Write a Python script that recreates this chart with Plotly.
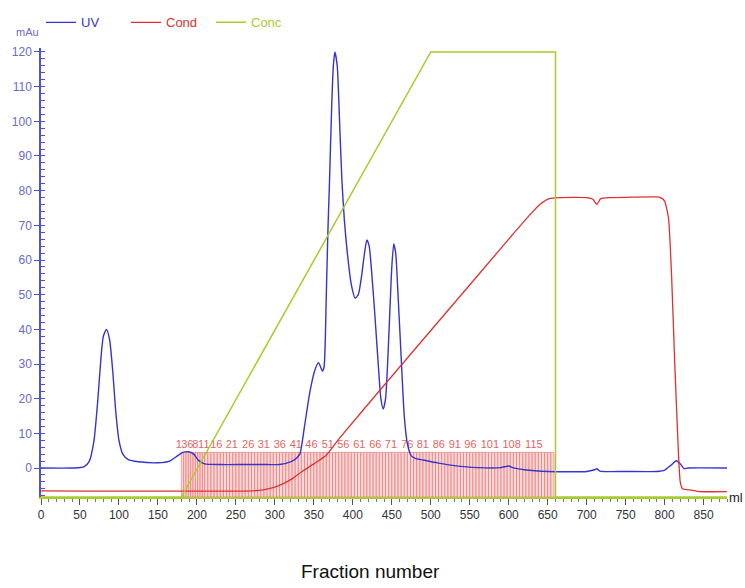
import numpy as np
import plotly.graph_objects as go

# UV absorbance trace (ml, mAu)
uv_ml = [0, 40, 55, 62, 68, 73, 77, 80, 84, 88, 92, 96, 100, 105, 112, 125, 150, 165, 175, 182,
         189, 196, 202, 210, 230, 260, 290, 306, 320, 326, 332, 338, 345, 351, 356, 361, 363,
         366, 368, 370, 373, 375, 377, 380, 383, 386, 389, 393, 398, 403, 407, 411, 415, 418,
         421, 424, 428, 432, 436, 439, 442, 445, 448, 450, 452.5, 455, 458, 462, 466, 470, 475,
         480, 490, 510, 530, 560, 590, 600, 605, 620, 650, 700, 710, 713, 717, 750, 790, 800,
         808, 815, 820, 825, 830, 880]
uv_mau = [0, 0, 0.3, 2, 8, 20, 32, 38, 40, 37, 28, 16, 8, 4, 2.4, 1.8, 1.5, 2, 3.5, 4.5,
          4.7, 4, 2.2, 1.2, 1.0, 1.0, 1.0, 1.0, 1.8, 2.5, 4, 12, 22, 28, 30.4, 28, 29,
          50, 68, 82, 105, 116, 120, 116, 100, 83, 72, 62, 53, 49, 50, 55, 62, 65.8,
          64, 57, 45, 32, 20, 17, 20, 32, 48, 58, 64.6, 62, 50, 32, 15, 7, 3.5,
          2.8, 2.3, 1.4, 0.7, 0.1, 0.1, 0.6, 0.1, -0.5, -1, -1, -0.5, -0.2, -0.9, -1, -1, -0.6,
          0.8, 2.1, 1.2, -0.2, 0, 0]

# Conductivity trace, drawn on the mAu scale
cond_ml = [0, 270, 285, 300, 310, 323, 335, 350, 366, 383, 435, 537, 600, 625, 640, 652, 665,
           700, 708, 713, 718, 730, 790, 795, 800, 805, 809, 813, 817, 820, 823, 835, 845, 880]
cond_val = [-6.6, -6.6, -6.3, -5.5, -4.6, -3, -1.0, 1.2, 3.7, 8.6, 22.5, 49.4, 66, 72.5, 76, 77.7, 78,
            78, 77.5, 76, 77.7, 78, 78.2, 78, 77, 72, 55, 30, 8, -4, -6, -6.4, -6.8, -6.8]

# Gradient concentration (%B)
conc_ml = [0, 180, 500, 660, 660, 880]
conc_pct = [0, 0, 100, 100, 0, 0]

# Fraction collection: first fractions 3 ml, then 4 ml up to end of gradient
frac_start = 180
frac_small_n, frac_small_vol = 10, 3
frac_end, frac_vol = 660, 4
frac_edges = list(frac_start + frac_small_vol * np.arange(frac_small_n + 1))
frac_edges += list(np.arange(frac_edges[-1] + frac_vol, frac_end + 0.1, frac_vol))
frac_edges = np.array(frac_edges, dtype=float)

frac_label_text = ["1", "3", "6", "8", "11", "16", "21", "26", "31", "36", "41", "46", "51", "56",
                   "61", "66", "71", "76", "81", "86", "91", "96", "101", "108", "115"]
frac_label_ml = [173, 180, 187.5, 194, 201.5, 217, 237, 258, 278, 298.5, 319, 339, 360, 380,
                 400.5, 421, 441, 462, 482, 502.5, 523, 543, 564, 592, 621]

x_ticks = list(range(0, 851, 50))
y_ticks = list(range(0, 121, 10))

Y_MIN, Y_MAX = -8.36, 121.15
FRAC_TOP = 4.5
LABEL_Y = 6.6

UV_COLOR = "#3434d0"
COND_COLOR = "#e03030"
CONC_COLOR = "#a8cc2c"
AXIS_BLUE = "#5050d8"
TICK_BLUE = "#6a6ac8"
FONT = "Liberation Sans, Arial, sans-serif"

fig = go.Figure()

# fraction marks
widths = np.diff(frac_edges)
centers = frac_edges[:-1] + widths / 2
fig.add_trace(go.Bar(
    x=centers, y=[FRAC_TOP - Y_MIN] * len(centers), base=Y_MIN, width=widths,
    marker=dict(color="rgba(255,195,195,0.6)", line=dict(color="rgba(238,115,115,0.8)", width=0.8)),
    showlegend=False, hoverinfo="skip",
))
fig.add_trace(go.Scatter(
    x=frac_label_ml, y=[LABEL_Y] * len(frac_label_ml), text=frac_label_text,
    mode="text", textposition="middle right",
    textfont=dict(family=FONT, size=11, color="#e46464"),
    showlegend=False, hoverinfo="skip",
))

fig.add_trace(go.Scatter(
    x=uv_ml, y=uv_mau, mode="lines", name=f'<span style="color:{UV_COLOR}">UV</span>',
    line=dict(color=UV_COLOR, width=1.4, shape="spline", smoothing=0.6),
))
fig.add_trace(go.Scatter(
    x=cond_ml, y=cond_val, mode="lines", name=f'<span style="color:{COND_COLOR}">Cond</span>',
    line=dict(color=COND_COLOR, width=1.3, shape="spline", smoothing=0.5),
))
fig.add_trace(go.Scatter(
    x=conc_ml, y=conc_pct, mode="lines", name=f'<span style="color:{CONC_COLOR}">Conc</span>',
    line=dict(color=CONC_COLOR, width=1.5), yaxis="y2",
))

# % scale: 0 % on the axis floor, 100 % at 120 mAu
pct_per_mau = 100 / (120 - Y_MIN)
fig.update_layout(
    width=745, height=588,
    margin=dict(l=41, r=18, t=48, b=91, autoexpand=False),
    plot_bgcolor="white", paper_bgcolor="white",
    barmode="overlay",
    font=dict(family=FONT),
    xaxis=dict(
        range=[0, 880], tickvals=x_ticks, showgrid=False, zeroline=False,
        showline=True, linecolor=CONC_COLOR, linewidth=1.5,
        ticks="outside", ticklen=6, tickcolor="#555555",
        minor=dict(dtick=10, ticks="outside", ticklen=3, tickcolor="#777777"),
        tickfont=dict(family=FONT, size=12, color="#333333"),
    ),
    yaxis=dict(
        range=[Y_MIN, Y_MAX], tickvals=y_ticks, showgrid=False, zeroline=False,
        showline=True, linecolor=AXIS_BLUE, linewidth=1.5,
        ticks="outside", ticklen=5, tickcolor=AXIS_BLUE,
        minor=dict(dtick=2, ticks="inside", ticklen=4, tickcolor=AXIS_BLUE),
        tickfont=dict(family=FONT, size=12, color=TICK_BLUE),
    ),
    yaxis2=dict(
        range=[0, (Y_MAX - Y_MIN) * pct_per_mau], overlaying="y", visible=False,
    ),
    legend=dict(
        orientation="h", x=0.0, xanchor="left", y=1.057, yanchor="middle",
        font=dict(family=FONT, size=13), itemwidth=30,
        entrywidth=40, entrywidthmode="pixels", bgcolor="rgba(0,0,0,0)",
    ),
    annotations=[
        dict(text="mAu", x=0.0, xref="paper", xanchor="right", y=1.036, yref="paper",
             yanchor="middle", showarrow=False, font=dict(family=FONT, size=11, color=TICK_BLUE)),
        dict(text="ml", x=1.0, xref="paper", xanchor="left", y=Y_MIN, yref="y",
             yanchor="middle", showarrow=False, font=dict(family=FONT, size=13, color="#222222")),
        dict(text="Fraction number", x=0.48, xref="paper", xanchor="center", y=-0.165, yref="paper",
             yanchor="middle", showarrow=False, font=dict(family=FONT, size=19, color="#111111")),
    ],
)

fig.write_html("out.html")
